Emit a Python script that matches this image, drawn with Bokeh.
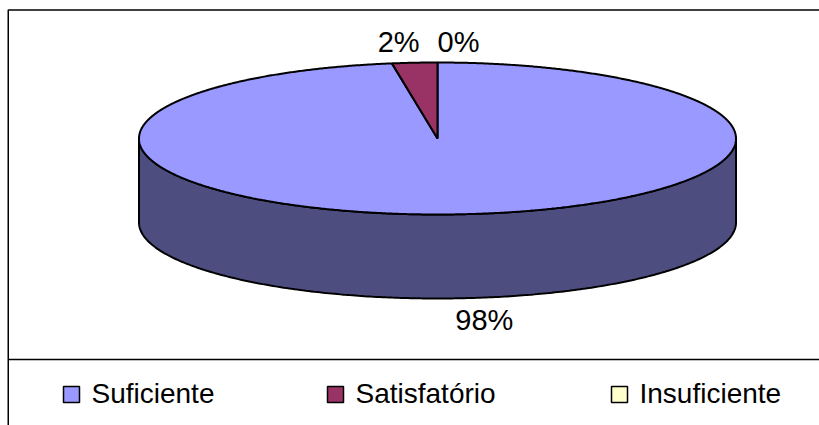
import numpy as np
from bokeh.plotting import figure
from bokeh.models import Range1d
from bokeh.core.properties import value
from bokeh.embed import file_html
from bokeh.resources import INLINE

# ---- data ----
categories = ["Suficiente", "Satisfatório", "Insuficiente"]
counts = [40, 1, 0]
top_colors = ["#9999FF", "#993366", "#FFFFCC"]
side_colors = ["#4D4D80", "#4D1A33", "#808066"]

# ---- layout (pixel space of the screenshot) ----
W, H = 819, 425
CX, CY, RX, RY, DEPTH = 437.0, 138.0, 298.5, 76.0, 84.0
FONT = value("Liberation Sans")
FS_LAB = "29px"
FS_LEG = "28px"
TXT_UP = 9  # correction for rendered text baseline

p = figure(width=W, height=H, output_backend="svg", toolbar_location=None,
           x_range=Range1d(0, W), y_range=Range1d(H, 0),
           min_border=0, outline_line_color=None)
p.axis.visible = False
p.grid.visible = False
p.background_fill_color = "white"
p.border_fill_color = "white"

total = float(sum(counts))
fr = [c / total for c in counts]
cum = np.concatenate([[0.0], np.cumsum(fr)])
a_start = 90.0 - 360.0 * cum[:-1]   # degrees, clockwise
a_end = 90.0 - 360.0 * cum[1:]


def ell(theta_deg, dy=0.0):
    t = np.radians(theta_deg)
    return CX + RX * np.cos(t), CY - RY * np.sin(t) + dy


# side walls (front half only)
sx, sy, sc = [], [], []
for i in range(len(counts)):
    lo, hi = a_end[i], a_start[i]
    if hi - lo <= 0:
        continue
    for k in (-1, 0, 1):
        f_lo, f_hi = -180 + 360 * k, 0 + 360 * k
        l, h = max(lo, f_lo), min(hi, f_hi)
        if h - l > 1e-9:
            th = np.linspace(l, h, 300)
            xt, yt = ell(th)
            xb, yb = ell(th[::-1], DEPTH)
            sx.append(list(xt) + list(xb))
            sy.append(list(yt) + list(yb))
            sc.append(side_colors[i])
p.patches(sx, sy, fill_color=sc, line_color="black", line_width=2)

# top faces
tx, ty, tc = [], [], []
for i in range(len(counts)):
    lo, hi = a_end[i], a_start[i]
    if hi - lo <= 0:
        continue
    th = np.linspace(hi, lo, max(3, int((hi - lo) * 3)))
    xa, ya = ell(th)
    tx.append([CX] + list(xa))
    ty.append([CY] + list(ya))
    tc.append(top_colors[i])
p.patches(tx, ty, fill_color=tc, line_color="black", line_width=2)

# percentage labels
lab_nudge = [(-5, 31), (5, -12), (0, -12)]
lab_align = ["left", "right", "left"]
for i in range(len(counts)):
    mid = (a_start[i] + a_end[i]) / 2.0
    s = np.sin(np.radians(mid))
    x0, y0 = ell(mid, DEPTH if s < 0 else 0.0)
    pct = f"{round(fr[i] * 100):.0f}%"
    p.text(x=[x0 + lab_nudge[i][0]], y=[y0 + lab_nudge[i][1] - TXT_UP], text=[pct],
           text_font=FONT, text_font_size=FS_LAB, text_color="black",
           text_align=lab_align[i], text_baseline="alphabetic")

# frame and legend separator
p.line(x=[7.75, 7.75, W + 5], y=[H + 5, 9.5, 9.5], line_color="black", line_width=1.5)
p.line(x=[7.75, W + 5], y=[359, 359], line_color="black", line_width=1.5)

# legend
leg_x = [63, 327, 611]
leg_y = 394
p.rect(x=[lx + 8 for lx in leg_x], y=[leg_y] * 3, width=16, height=16,
       width_units="screen", height_units="screen",
       fill_color=top_colors, line_color="black", line_width=1.5)
p.text(x=[lx + 28 for lx in leg_x], y=[leg_y + 8 - TXT_UP] * 3, text=categories,
       text_font=FONT, text_font_size=FS_LEG, text_color="black",
       text_align="left", text_baseline="alphabetic")

open("out.html", "w").write(file_html(p, INLINE))
